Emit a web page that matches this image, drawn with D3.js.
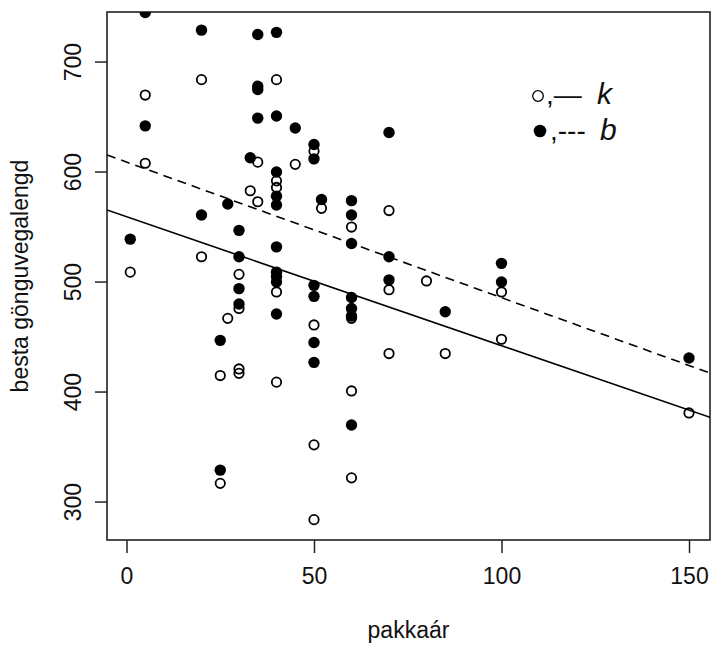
<!DOCTYPE html>
<html>
<head>
<meta charset="utf-8">
<script src="https://cdn.jsdelivr.net/npm/d3@7"></script>
<style>
  html, body { margin: 0; padding: 0; background: #fff; }
  svg { display: block; }
  text { font-family: "Liberation Sans", Arial, Helvetica, sans-serif; fill: #111; }
</style>
</head>
<body>
<svg id="chart" width="712" height="646"></svg>
<script>
// ---- data ----
const xTicks = [0, 50, 100, 150];
const yTicks = [300, 400, 500, 600, 700];
const xLabel = "pakkaár";
const yLabel = "besta gönguvegalengd";

// open circles: k
const kX = [1, 5, 5, 20, 20, 25, 25, 27, 30, 30, 30, 30, 33, 35, 35, 40, 40, 40, 40, 40, 45, 50, 50, 50, 50, 52, 60, 60, 60, 60, 70, 70, 70, 80, 85, 100, 100, 150];
const kY = [509, 670, 608, 684, 523, 415, 317, 467, 507, 476, 421, 417, 583, 609, 573, 684, 592, 586, 491, 409, 607, 619, 461, 352, 284, 567, 550, 467, 401, 322, 565, 493, 435, 501, 435, 491, 448, 381];

// filled circles: b
const bX = [1, 5, 5, 20, 20, 25, 25, 27, 30, 30, 30, 30, 33, 35, 35, 35, 35, 40, 40, 40, 40, 40, 40, 40, 40, 40, 40, 45, 50, 50, 50, 50, 50, 50, 52, 60, 60, 60, 60, 60, 60, 60, 70, 70, 70, 85, 100, 100, 150];
const bY = [539, 745, 642, 729, 561, 447, 329, 571, 547, 523, 494, 480, 613, 725, 678, 675, 649, 727, 651, 600, 578, 570, 532, 509, 505, 500, 471, 640, 625, 612, 497, 487, 445, 427, 575, 574, 561, 535, 486, 476, 469, 370, 636, 523, 502, 473, 517, 500, 431];

// regression lines [intercept, slope]
const lineK = [559.4, -1.172];
const lineB = [609.1, -1.233];

// legend entries
const legendSymbols = [",—", ",---"];
const legendNames = ["k", "b"];

// ---- layout ----
const svg = d3.select("#chart");
const L = 107, R = 710, T = 12, B = 540;
const x = d3.scaleLinear().domain([-5.2, 155.6]).range([L, R]);
const y = d3.scaleLinear().domain([265.5, 745.5]).range([B, T]);

svg.append("rect").attr("width", 712).attr("height", 646).attr("fill", "#fff");

svg.append("defs").append("clipPath").attr("id", "plotclip")
  .append("rect").attr("x", L).attr("y", T).attr("width", R - L).attr("height", B - T);

// axes
const xAxis = svg.append("g").attr("transform", `translate(0,${B})`)
  .call(d3.axisBottom(x).tickValues(xTicks).tickSize(13).tickPadding(15).tickFormat(d3.format("d")));
const yAxis = svg.append("g").attr("transform", `translate(${L},0)`)
  .call(d3.axisLeft(y).tickValues(yTicks).tickSize(12).tickPadding(10).tickFormat(d3.format("d")));
[xAxis, yAxis].forEach(g => {
  g.select(".domain").remove();
  g.selectAll(".tick line").attr("stroke", "#222").attr("stroke-width", 1.5);
  g.selectAll(".tick text").attr("font-size", 23).attr("fill", "#111")
    .attr("font-family", "'Liberation Sans', Arial, sans-serif");
});
// rotate y tick labels (R style, las=0)
yAxis.selectAll(".tick").attr("transform", null);
yAxis.selectAll(".tick line").attr("transform", d => `translate(0,${y(d)})`);
yAxis.selectAll(".tick text")
  .attr("text-anchor", "middle").attr("dy", null).attr("x", 0).attr("y", 0)
  .attr("dominant-baseline", "middle")
  .attr("transform", d => `translate(-32,${y(d)}) rotate(-90)`);

// box
svg.append("rect").attr("x", L).attr("y", T).attr("width", R - L).attr("height", B - T)
  .attr("fill", "none").attr("stroke", "#222").attr("stroke-width", 1.6);

const plot = svg.append("g").attr("clip-path", "url(#plotclip)");

// points
const kData = kX.map((v, i) => ({ x: v, y: kY[i] }));
const bData = bX.map((v, i) => ({ x: v, y: bY[i] }));
plot.selectAll("circle.k").data(kData).join("circle").attr("class", "k")
  .attr("cx", d => x(d.x)).attr("cy", d => y(d.y)).attr("r", 4.7)
  .attr("fill", "none").attr("stroke", "#000").attr("stroke-width", 1.8);
plot.selectAll("circle.b").data(bData).join("circle").attr("class", "b")
  .attr("cx", d => x(d.x)).attr("cy", d => y(d.y)).attr("r", 5.7)
  .attr("fill", "#000");

// regression lines
const xd = x.domain();
function reg(c) { return xd.map(v => ({ x: v, y: c[0] + c[1] * v })); }
const line = d3.line().x(d => x(d.x)).y(d => y(d.y));
plot.append("path").datum(reg(lineK)).attr("d", line)
  .attr("fill", "none").attr("stroke", "#000").attr("stroke-width", 1.6);
plot.append("path").datum(reg(lineB)).attr("d", line)
  .attr("fill", "none").attr("stroke", "#000").attr("stroke-width", 1.6)
  .attr("stroke-dasharray", "9,6");

// axis titles
svg.append("text").attr("x", (L + R) / 2).attr("y", 638).attr("text-anchor", "middle")
  .attr("font-size", 23).text(xLabel);
svg.append("text").attr("transform", `translate(28,${(T + B) / 2}) rotate(-90)`)
  .attr("text-anchor", "middle").attr("font-size", 23).text(yLabel);

// legend
const leg = svg.append("g");
// row 1: open circle
leg.append("circle").attr("cx", 538).attr("cy", 96).attr("r", 5.3)
  .attr("fill", "none").attr("stroke", "#000").attr("stroke-width", 1.3);
leg.append("text").attr("x", 546).attr("y", 104).attr("font-size", 28).text(legendSymbols[0]);
leg.append("text").attr("x", 597).attr("y", 104).attr("font-size", 30)
  .attr("font-style", "italic").text(legendNames[0]);
// row 2: filled circle
leg.append("circle").attr("cx", 540).attr("cy", 131).attr("r", 6.3).attr("fill", "#000");
leg.append("text").attr("x", 550).attr("y", 140).attr("font-size", 28).text(legendSymbols[1]);
leg.append("text").attr("x", 600).attr("y", 140).attr("font-size", 30)
  .attr("font-style", "italic").text(legendNames[1]);
</script>
</body>
</html>
